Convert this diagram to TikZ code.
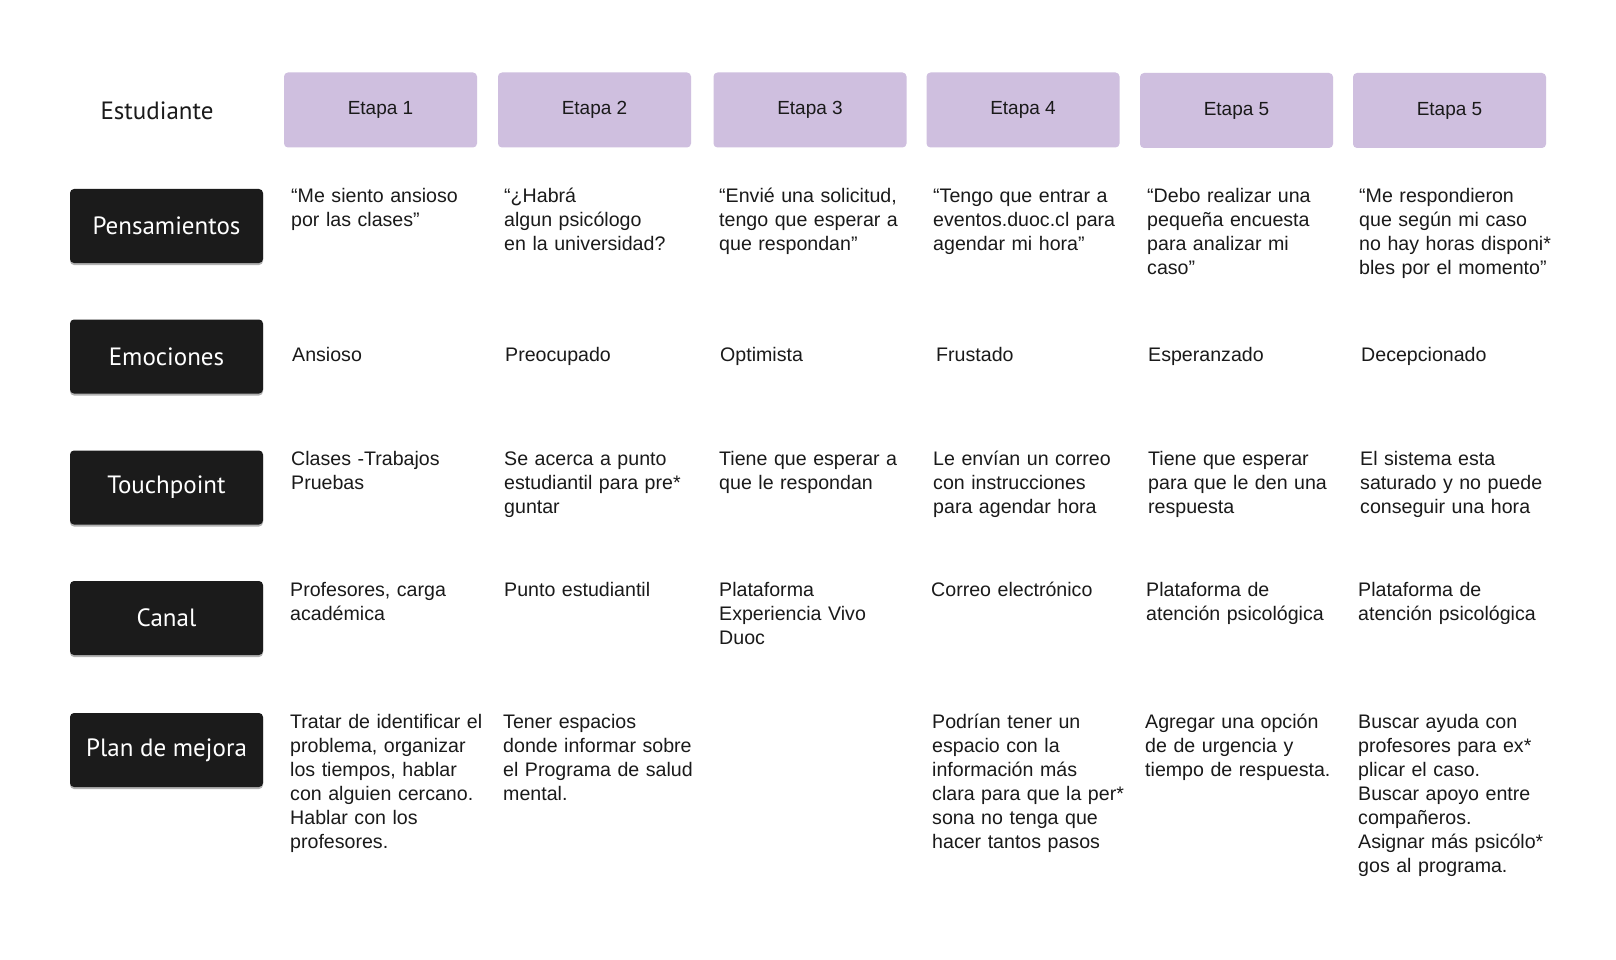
\documentclass[tikz,border=0pt]{standalone}
\usepackage{fontspec}
\setmainfont{Liberation Sans}
\newfontfamily\labelfont{PT Sans}
\usetikzlibrary{positioning}

\definecolor{stagefill}{RGB}{207,191,223}
\definecolor{labelfill}{RGB}{27,27,27}
\definecolor{celltext}{RGB}{26,26,26}

\tikzset{
  stagebox/.style={fill=stagefill, rounded corners=4pt, minimum width=193pt, minimum height=75pt,
    text=celltext, font=\fontsize{19}{23}\selectfont},
  rowlabel/.style={fill=labelfill, rounded corners=4pt, minimum width=193pt, minimum height=74pt,
    text=white, font=\labelfont\fontsize{25}{29}\selectfont,
    preaction={fill=black!30, transform canvas={yshift=-2pt}}},
  cell/.style={anchor=base west, inner sep=0pt, text width=215pt, align=left,
    text=celltext, font=\fontsize{19.6}{24}\selectfont}
}

\begin{document}
\begin{tikzpicture}[x=1pt, y=-1pt]
    \useasboundingbox[fill=white] (0,0) rectangle (1616,960);

    % header
    \node[text=celltext, font=\labelfont\fontsize{25}{29}\selectfont] (student) at (157, 111) {Estudiante};
    \node[stagebox] (st1) at (380.5, 110) {Etapa 1};
    \node[stagebox] (st2) at (594.5, 110) {Etapa 2};
    \node[stagebox] (st3) at (810, 110) {Etapa 3};
    \node[stagebox] (st4) at (1023, 110) {Etapa 4};
    \node[stagebox] (st5) at (1236.5, 110.5) {Etapa 5};
    \node[stagebox] (st6) at (1449.5, 110.5) {Etapa 5};

    % row labels
    \node[rowlabel] (thoughts) at (166.5, 226) {Pensamientos};
    \node[rowlabel] (emotions) at (166.5, 356.5) {Emociones};
    \node[rowlabel] (touch) at (166.5, 487.5) {Touchpoint};
    \node[rowlabel] (channel) at (166.5, 618) {Canal};
    \node[rowlabel] (plan) at (166.5, 750) {Plan de mejora};

    % Pensamientos
    \node[cell] (p1) at (291, 202.5) {“Me siento ansioso\\por las clases”};
    \node[cell] (p2) at (504, 202.5) {“¿Habrá\\algun psicólogo\\en la universidad?};
    \node[cell] (p3) at (719, 202.5) {“Envié una solicitud,\\tengo que esperar a\\que respondan”};
    \node[cell] (p4) at (933, 202.5) {“Tengo que entrar a\\eventos.duoc.cl para\\agendar mi hora”};
    \node[cell] (p5) at (1147, 202.5) {“Debo realizar una\\pequeña encuesta\\para analizar mi\\caso”};
    \node[cell] (p6) at (1359, 202.5) {“Me respondieron\\que según mi caso\\no hay horas disponi*\\bles por el momento”};

    % Emociones
    \node[cell] (e1) at (292, 361.5) {Ansioso};
    \node[cell] (e2) at (505, 361.5) {Preocupado};
    \node[cell] (e3) at (720, 361.5) {Optimista};
    \node[cell] (e4) at (936, 361.5) {Frustado};
    \node[cell] (e5) at (1148, 361.5) {Esperanzado};
    \node[cell] (e6) at (1361, 361.5) {Decepcionado};

    % Touchpoint
    \node[cell] (t1) at (291, 465) {Clases -Trabajos\\Pruebas};
    \node[cell] (t2) at (504, 465) {Se acerca a punto\\estudiantil para pre*\\guntar};
    \node[cell] (t3) at (719, 465) {Tiene que esperar a\\que le respondan};
    \node[cell] (t4) at (933, 465) {Le envían un correo\\con instrucciones\\para agendar hora};
    \node[cell] (t5) at (1148, 465) {Tiene que esperar\\para que le den una\\respuesta};
    \node[cell] (t6) at (1360, 465) {El sistema esta\\saturado y no puede\\conseguir una hora};

    % Canal
    \node[cell] (c1) at (290, 596.5) {Profesores, carga\\académica};
    \node[cell] (c2) at (504, 596.5) {Punto estudiantil};
    \node[cell] (c3) at (719, 596.5) {Plataforma\\Experiencia Vivo\\Duoc};
    \node[cell] (c4) at (931, 596.5) {Correo electrónico};
    \node[cell] (c5) at (1146, 596.5) {Plataforma de\\atención psicológica};
    \node[cell] (c6) at (1358, 596.5) {Plataforma de\\atención psicológica};

    % Plan de mejora
    \node[cell] (m1) at (290, 728.5) {Tratar de identificar el\\problema, organizar\\los tiempos, hablar\\con alguien cercano.\\Hablar con los\\profesores.};
    \node[cell] (m2) at (503, 728.5) {Tener espacios\\donde informar sobre\\el Programa de salud\\mental.};
    \node[cell] (m4) at (932, 728.5) {Podrían tener un\\espacio con la\\información más\\clara para que la per*\\sona no tenga que\\hacer tantos pasos};
    \node[cell] (m5) at (1145, 728.5) {Agregar una opción\\de de urgencia y\\tiempo de respuesta.};
    \node[cell] (m6) at (1358, 728.5) {Buscar ayuda con\\profesores para ex*\\plicar el caso.\\Buscar apoyo entre\\compañeros.\\Asignar más psicólo*\\gos al programa.};
\end{tikzpicture}
\end{document}
